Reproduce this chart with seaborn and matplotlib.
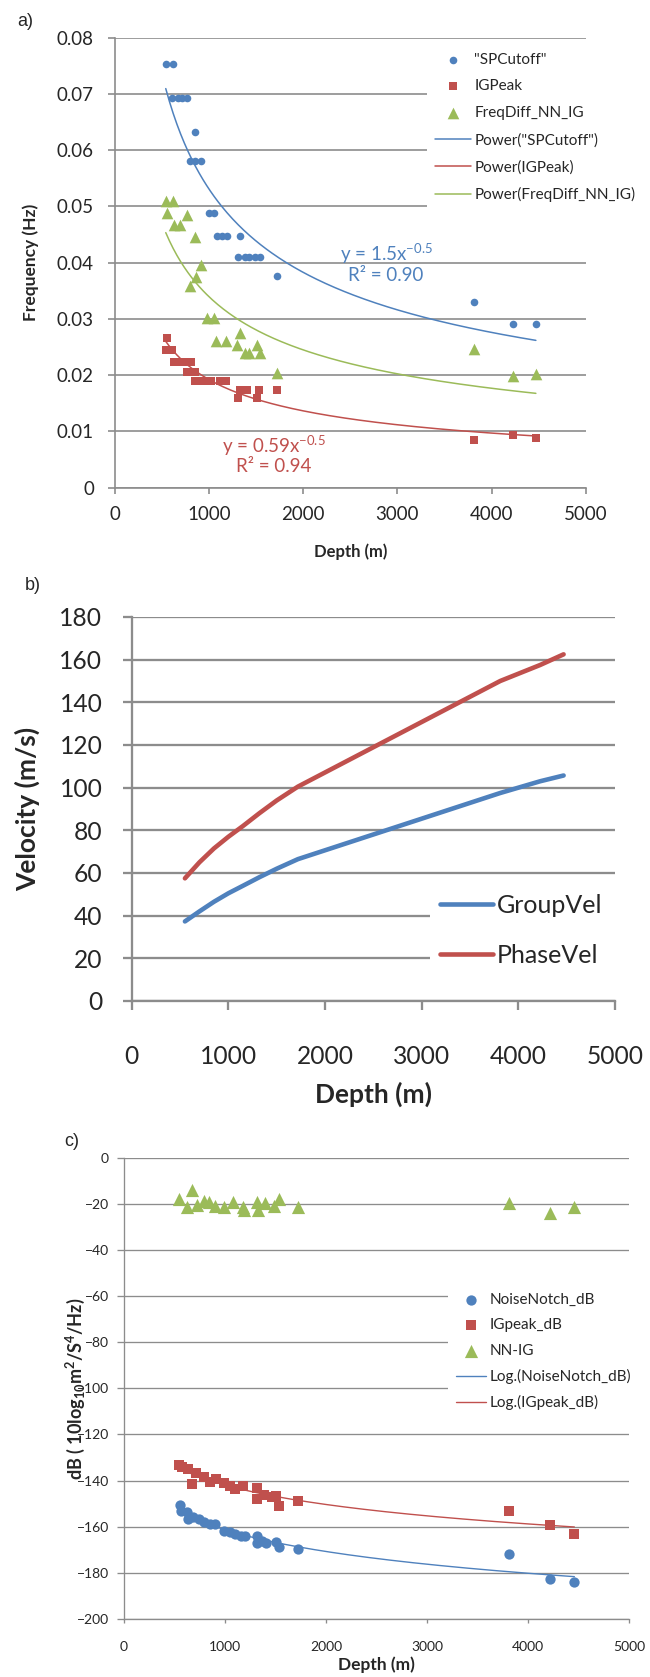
import numpy as np
import matplotlib
matplotlib.use('Agg')
import matplotlib.pyplot as plt
import seaborn as sns

"""three stacked panels: a) frequencies vs depth, b) velocities vs depth, c) levels in dB vs depth"""

# a) frequency data
sp_depth = [541, 621, 608, 674, 718, 771, 850, 798, 850, 916, 996, 1057, 1084, 1135, 1190, 1326,
            1313, 1379, 1423, 1489, 1542, 1722, 3814, 4227, 4470]
sp_freq = [0.0754, 0.0754, 0.0692, 0.0692, 0.0692, 0.0692, 0.0633, 0.0581, 0.0581, 0.0581, 0.0489, 0.0489,
           0.0448, 0.0448, 0.0448, 0.0448, 0.0411, 0.0411, 0.0411, 0.0411, 0.0411, 0.0377, 0.0331, 0.0291, 0.0291]
igp_depth = [555, 541, 608, 630, 696, 749, 806, 762, 850, 850, 938, 1024, 1115, 1181, 1326, 1400, 1532,
             1313, 1511, 1722, 3814, 4227, 4470]
igp_freq = [0.0267, 0.0245, 0.0245, 0.0224, 0.0224, 0.0224, 0.0224, 0.0206, 0.0206, 0.0190, 0.0190, 0.0190,
            0.0190, 0.0190, 0.0174, 0.0174, 0.0174, 0.0160, 0.0160, 0.0174, 0.0085, 0.0094, 0.0089]
fd_depth = [541, 621, 550, 630, 696, 771, 850, 916, 859, 798, 982, 1057, 1079, 1181, 1326, 1300, 1379,
            1423, 1511, 1542, 1722, 3814, 4227, 4470]
fd_freq = [0.0509, 0.0509, 0.0488, 0.0467, 0.0467, 0.0485, 0.0446, 0.0396, 0.0375, 0.0358, 0.0301, 0.0301,
           0.0260, 0.0260, 0.0275, 0.0253, 0.0239, 0.0239, 0.0253, 0.0239, 0.0204, 0.0246, 0.0198, 0.0202]

# b) velocity data
vel_depth = [550, 700, 850, 1000, 1150, 1320, 1500, 1720, 3814, 4227, 4470]
group_vel = [37.3, 42.0, 46.5, 50.5, 54.0, 58.0, 62.0, 66.5, 97.5, 103.0, 105.7]
phase_vel = [57.5, 65.0, 71.5, 77.0, 82.0, 88.0, 94.0, 100.5, 150.0, 157.5, 162.5]

# c) dB data
noise_depth = [550, 562, 624, 632, 685, 738, 788, 849, 903, 993, 1054, 1095, 1157, 1198, 1321, 1313,
               1371, 1403, 1506, 1538, 1722, 3811, 4221, 4459]
noise_db = [-150.6, -153.2, -153.8, -156.8, -155.6, -156.7, -157.8, -159.0, -159.0, -161.9, -162.2, -163.2,
            -163.8, -164.1, -164.0, -167.2, -166.2, -167.2, -166.7, -168.9, -169.8, -171.8, -182.8, -183.8]
ig_depth = [542, 571, 632, 673, 714, 788, 849, 910, 993, 1054, 1095, 1178, 1321, 1313, 1383, 1465, 1506,
            1538, 1722, 3811, 4221, 4459]
ig_db = [-133.2, -134.2, -135.1, -141.6, -136.8, -138.6, -140.5, -139.3, -141.2, -142.3, -143.8, -142.3,
         -143.1, -148.0, -146.2, -147.0, -146.7, -151.0, -148.8, -153.0, -159.2, -163.3]
nnig_depth = [542, 624, 673, 726, 788, 842, 903, 993, 1083, 1178, 1190, 1313, 1330, 1396, 1486, 1538,
              1722, 3811, 4221, 4459]
nnig_db = [-18.1, -21.5, -14.0, -20.5, -18.6, -19.1, -20.9, -21.5, -19.1, -21.2, -22.7, -19.1, -22.7,
           -19.8, -20.9, -18.1, -21.5, -19.5, -24.1, -21.5]

BLUE = '#4F81BD'
RED = '#C0504D'
GREEN = '#9BBB59'
GRID = '#8C8C8C'
W, H = 650, 1677


def px_axes(fig, left, top, right, bottom):
    """axes placed by pixel edges"""
    return fig.add_axes([left / W, 1 - bottom / H, (right - left) / W, (bottom - top) / H])


def excel_look(ax, lw, len_x, len_y, pad_x, pad_y, size):
    """gray spines, horizontal gridlines, outside ticks"""
    sns.despine(ax=ax)
    for s in ['left', 'bottom']:
        ax.spines[s].set_color(GRID)
        ax.spines[s].set_linewidth(lw)
    ax.yaxis.grid(True, color=GRID, lw=lw)
    ax.xaxis.grid(False)
    ax.set_axisbelow(True)
    ax.tick_params(axis='x', direction='out', length=len_x, width=lw, color=GRID, pad=pad_x,
                   labelsize=size, bottom=True)
    ax.tick_params(axis='y', direction='out', length=len_y, width=lw, color=GRID, pad=pad_y,
                   labelsize=size, left=True)


def power_fit(x, y):
    b, lna = np.polyfit(np.log(x), np.log(y), 1)
    xf = np.linspace(min(x), max(x), 200)
    return xf, np.exp(lna) * xf ** b


def log_fit(x, y):
    a, b = np.polyfit(np.log(x), y, 1)
    xf = np.linspace(min(x), max(x), 200)
    return xf, a * np.log(xf) + b


def legend_at(ax, left, top, size, width=None, **kw):
    """legend with white box whose upper left corner is given in pixels"""
    if width is None:
        anchor = (left / W, 1 - top / H)
    else:
        anchor = (left / W, 1 - top / H, width / W, 0)
        kw['mode'] = 'expand'
    leg = ax.legend(loc='upper left', bbox_to_anchor=anchor,
                    bbox_transform=ax.figure.transFigure, borderaxespad=0, fontsize=size,
                    frameon=True, facecolor='white', edgecolor='none', framealpha=1, fancybox=False, **kw)
    return leg


sns.set_style('white')
plt.rcParams['font.family'] = ['Lato', 'DejaVu Sans']
plt.rcParams['mathtext.fontset'] = 'custom'
plt.rcParams['mathtext.rm'] = 'Lato'
plt.rcParams['mathtext.bf'] = 'Lato:bold'

fig = plt.figure(figsize=(6.5, 16.77), dpi=100)

# ---------------- a)
ax = px_axes(fig, 114.8, 37.7, 585.8, 487.7)
sns.scatterplot(x=sp_depth, y=sp_freq, ax=ax, color=BLUE, marker='o', s=30, linewidth=0,
                label='"SPCutoff"', zorder=3)
sns.scatterplot(x=igp_depth, y=igp_freq, ax=ax, color=RED, marker='s', s=30, linewidth=0,
                label='IGPeak', zorder=3)
sns.scatterplot(x=fd_depth, y=fd_freq, ax=ax, color=GREEN, marker='^', s=70, linewidth=0,
                label='FreqDiff_NN_IG', zorder=3)
for xs, ys, c, name in [(sp_depth, sp_freq, BLUE, 'Power("SPCutoff")'),
                        (igp_depth, igp_freq, RED, 'Power(IGPeak)'),
                        (fd_depth, fd_freq, GREEN, 'Power(FreqDiff_NN_IG)')]:
    xf, yf = power_fit(xs, ys)
    sns.lineplot(x=xf, y=yf, ax=ax, color=c, lw=1.1, label=name, zorder=4)
ax.set_xlim(0, 5000)
ax.set_ylim(0, 0.08)
ax.set_xticks(range(0, 5001, 1000))
ax.set_yticks(np.arange(0, 0.081, 0.01))
ax.set_yticklabels(['0'] + [f'{v:.2f}' for v in np.arange(0.01, 0.081, 0.01)])
excel_look(ax, 1.2, 4.1, 5, 9.2, 10, 13.5)
ax.set_xlabel('Depth (m)', fontsize=12, fontweight='bold', va='center')
ax.xaxis.set_label_coords(0.5, (487.7 - 552) / 450)
ax.set_ylabel('Frequency (Hz)', fontsize=12.5, fontweight='bold', va='center')
ax.yaxis.set_label_coords((31 - 114.8) / 471, 0.5)
ax.text(2880, 0.04155, 'y = 1.5x$^{\\mathrm{-0.5}}$', color=BLUE, fontsize=13.5, ha='center', va='center')
ax.text(2880, 0.0378, 'R² = 0.90', color=BLUE, fontsize=13.5, ha='center', va='center')
ax.text(1690, 0.00741, 'y = 0.59x$^{\\mathrm{-0.5}}$', color=RED, fontsize=13.5, ha='center', va='center')
ax.text(1690, 0.00368, 'R² = 0.94', color=RED, fontsize=13.5, ha='center', va='center')
legend_at(ax, 427, 44.3, 11, borderpad=0.54, labelspacing=0.84, handlelength=2.35, handletextpad=0.2)
fig.text(25 / W, 1 - 21 / H, 'a)', fontsize=13, family='Liberation Sans', ha='center', va='center')

# ---------------- b)
ax = px_axes(fig, 131.8, 617, 614.8, 1001)
sns.lineplot(x=vel_depth, y=group_vel, ax=ax, color=BLUE, lw=3.3, label='GroupVel', sort=False, estimator=None)
sns.lineplot(x=vel_depth, y=phase_vel, ax=ax, color=RED, lw=3.3, label='PhaseVel', sort=False, estimator=None)
ax.set_xlim(0, 5000)
ax.set_ylim(0, 180)
ax.set_xticks(range(0, 5001, 1000))
ax.set_yticks(range(0, 181, 20))
excel_look(ax, 1.65, 6.6, 6.8, 24.9, 14.4, 17.7)
ax.set_xlabel('Depth (m)', fontsize=19, fontweight='bold', va='center')
ax.xaxis.set_label_coords(0.5, (1001 - 1094) / 384)
ax.set_ylabel('Velocity (m/s)', fontsize=19, fontweight='bold', va='center')
ax.yaxis.set_label_coords((27 - 131.8) / 483, 0.5)
legend_at(ax, 430, 883.8, 18, width=200, borderpad=0.4, labelspacing=1.08, handlelength=2.1,
          handletextpad=0.16)
fig.text(33 / W, 1 - 586 / H, 'b)', fontsize=13, family='Liberation Sans', ha='center', va='center')

# ---------------- c)
ax = px_axes(fig, 124, 1157.7, 629, 1619)
sns.scatterplot(x=noise_depth, y=noise_db, ax=ax, color=BLUE, marker='o', s=55, linewidth=0,
                label='NoiseNotch_dB', zorder=3)
sns.scatterplot(x=ig_depth, y=ig_db, ax=ax, color=RED, marker='s', s=55, linewidth=0,
                label='IGpeak_dB', zorder=3)
sns.scatterplot(x=nnig_depth, y=nnig_db, ax=ax, color=GREEN, marker='^', s=90, linewidth=0,
                label='NN-IG', zorder=3)
for xs, ys, c, name in [(noise_depth, noise_db, BLUE, 'Log.(NoiseNotch_dB)'),
                        (ig_depth, ig_db, RED, 'Log.(IGpeak_dB)')]:
    xf, yf = log_fit(xs, ys)
    sns.lineplot(x=xf, y=yf, ax=ax, color=c, lw=1.0, label=name, zorder=4)
ax.set_xlim(0, 5000)
ax.set_ylim(-200, 0)
ax.set_xticks(range(0, 5001, 1000))
ax.set_yticks(range(-200, 1, 20))
excel_look(ax, 0.95, 2.9, 4.7, 12.7, 6.3, 10)
ax.set_xlabel('Depth (m)', fontsize=12.5, fontweight='bold', va='center')
ax.xaxis.set_label_coords(0.5, (1619 - 1665) / 461.3)
ax.set_ylabel('dB ( 10log$_{\\mathbf{10}}$m$^{\\mathbf{2}}$/S$^{\\mathbf{4}}$/Hz)', fontsize=13,
              fontweight='bold', va='center')
ax.yaxis.set_label_coords((75 - 124) / 505, 0.5)
legend_at(ax, 448.5, 1286, 11, width=200, borderpad=0.48, labelspacing=0.73, handlelength=1.95,
          handletextpad=0.28)
fig.text(72 / W, 1 - 1142 / H, 'c)', fontsize=13, family='Liberation Sans', ha='center', va='center')

fig.savefig('out.png', dpi=100)
